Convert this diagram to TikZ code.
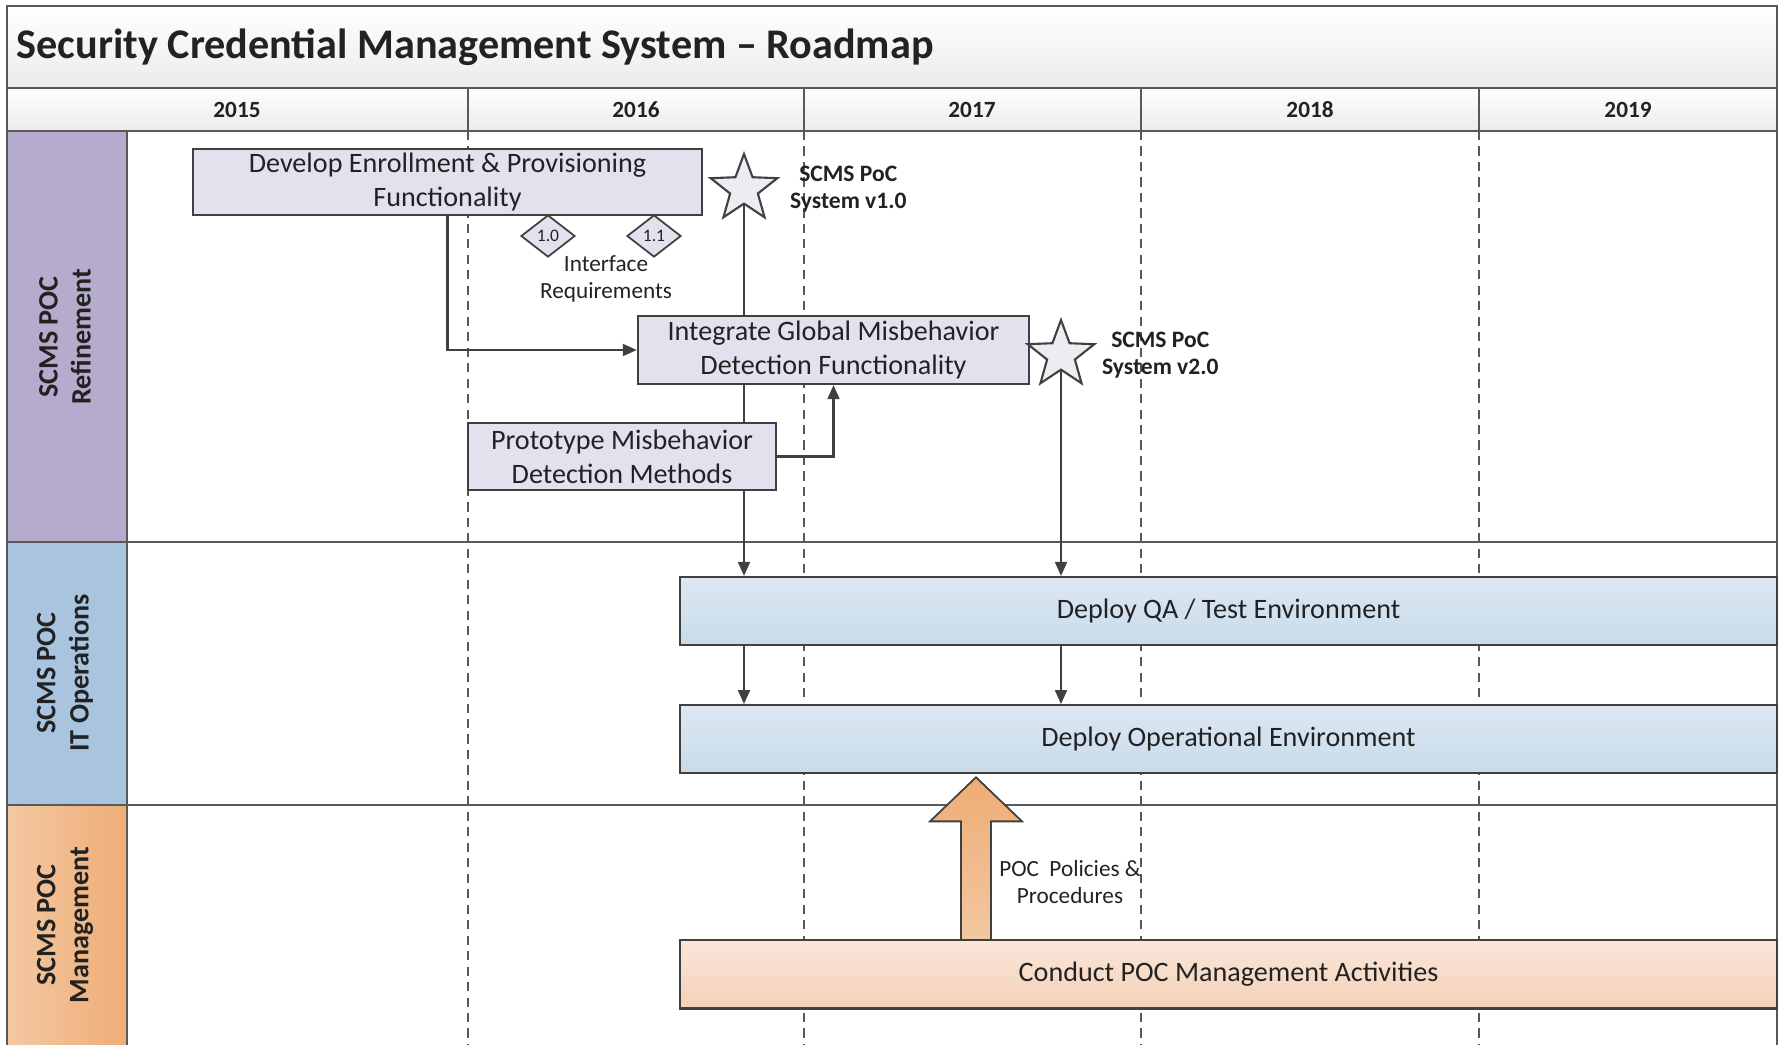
\documentclass[tikz,border=0pt]{standalone}
\usepackage{fontspec}
\setmainfont{Carlito}
\usepackage{tikz}
\usetikzlibrary{shapes.geometric, arrows.meta, positioning, calc}
\definecolor{gridline}{HTML}{595959}
\definecolor{boxline}{HTML}{404040}
\definecolor{inktext}{HTML}{222222}
\definecolor{bandgray}{HTML}{EBEBEB}
\definecolor{lanepurple}{HTML}{B5ABCC}
\definecolor{laneblue}{HTML}{A8C4DF}
\definecolor{laneorangeL}{HTML}{F4C8A2}
\definecolor{laneorangeR}{HTML}{EEAD77}
\definecolor{taskpurple}{HTML}{E4E0EE}
\definecolor{taskblueT}{HTML}{DDE8F2}
\definecolor{taskblueB}{HTML}{C8DBEA}
\definecolor{taskorangeT}{HTML}{FAE7DA}
\definecolor{taskorangeB}{HTML}{F4D0B6}
\definecolor{arroworangeT}{HTML}{EEAC74}
\definecolor{arroworangeB}{HTML}{F3C7A2}
\definecolor{starfill}{HTML}{EEEBF3}
\pgfdeclarelayer{grid}
\pgfdeclarelayer{links}
\pgfsetlayers{grid,links,main}

\begin{document}
\begin{tikzpicture}[x=0.01cm, y=-0.01cm,
        lanelabel/.style={rotate=90, align=center, font=\fontsize{8}{9.4}\selectfont\bfseries, text=inktext},
        year/.style={font=\fontsize{6.6}{8}\selectfont\bfseries, text=inktext},
        task/.style={draw=boxline, line width=0.6pt, align=center, inner sep=0pt, font=\fontsize{8}{9.6}\selectfont, text=inktext},
        purpletask/.style={task, fill=taskpurple},
        bluetask/.style={task, top color=taskblueT, bottom color=taskblueB, minimum width=10.97cm, minimum height=0.68cm},
        orangetask/.style={task, top color=taskorangeT, bottom color=taskorangeB, minimum width=10.97cm, minimum height=0.68cm},
        milestone/.style={star, star points=5, star point ratio=2.4, draw=boxline, fill=starfill, line width=0.6pt, minimum size=0.7cm, inner sep=0pt},
        release/.style={diamond, draw=boxline, fill=taskpurple, line width=0.5pt, minimum width=0.54cm, minimum height=0.42cm, inner sep=0pt, font=\fontsize{5}{6}\selectfont, text=inktext},
        note/.style={align=center, inner sep=0pt, font=\fontsize{6.6}{7.8}\selectfont, text=inktext},
        boldnote/.style={note, font=\fontsize{6.7}{7.8}\selectfont\bfseries},
        flow/.style={-{Triangle[length=4pt, width=3.4pt]}, draw=boxline, line width=0.6pt},
        yearline/.style={draw=gridline, dash pattern=on 2.6pt off 1.8pt, line width=0.5pt},
        frame/.style={draw=gridline, line width=0.7pt},
        bigarrow/.style={draw=boxline, line width=0.5pt, top color=arroworangeT, bottom color=arroworangeB}
    ]
        \useasboundingbox (0,0) rectangle (1781,1044);

        % bands, lanes and year grid
        \begin{pgfonlayer}{grid}
            \shade[top color=white, bottom color=bandgray] (7,6) rectangle (1777,88);
            \shade[top color=white, bottom color=bandgray] (7,88) rectangle (1777,131);
            \fill[lanepurple] (7,131) rectangle (127,542);
            \fill[laneblue] (7,542) rectangle (127,805);
            \shade[left color=laneorangeL, right color=laneorangeR] (7,805) rectangle (127,1050);
            \foreach \x in {468,804,1141,1479} {
                \draw[frame] (\x,88) -- (\x,131);
                \draw[yearline] (\x,131) -- (\x,1050);
            }
            \draw[frame] (7,1050) -- (7,6) -- (1777,6) -- (1777,1050);
            \foreach \y in {88,131,542,805}
                \draw[frame] (7,\y) -- (1777,\y);
            \draw[frame] (127,131) -- (127,1050);
        \end{pgfonlayer}

        \node[anchor=west, inner sep=0pt, font=\fontsize{12}{14}\selectfont\bfseries, text=inktext] (title) at (16,47) {Security Credential Management System – Roadmap};
        \foreach \x/\yr in {237/2015, 636/2016, 972/2017, 1310/2018, 1628/2019}
            \node[year] (y\yr) at (\x,110) {\yr};

        \node[lanelabel] (refine) at (65,337) {SCMS POC\\Refinement};
        \node[lanelabel] (itops) at (65,673) {SCMS POC\\IT Operations};
        \node[lanelabel] (manage) at (65,925) {SCMS POC\\Management};

        % tasks
        \node[purpletask, minimum width=5.09cm, minimum height=0.66cm] (enroll) at (447.5,182) {Develop Enrollment \& Provisioning\\Functionality};
        \node[purpletask, minimum width=3.91cm, minimum height=0.68cm] (integrate) at (833.5,350) {Integrate Global Misbehavior\\Detection Functionality};
        \node[purpletask, minimum width=3.08cm, minimum height=0.67cm] (prototype) at (622,456.5) {Prototype Misbehavior\\Detection Methods};
        \node[bluetask] (qa) at (1228.5,611) {Deploy QA / Test Environment};
        \node[bluetask, below=0.58cm of qa] (ops) {Deploy Operational Environment};
        \node[orangetask, below=1.65cm of ops] (mgmt) {Conduct POC Management Activities};

        % milestones
        \node[milestone] (v1) at (744,189) {};
        \node[boldnote, right=0.24cm of v1] (v1label) {SCMS PoC\\System v1.0};
        \node[milestone] (v2) at (1061,355) {};
        \node[boldnote, right=0.19cm of v2] (v2label) {SCMS PoC\\System v2.0};
        \node[release] (r10) at (548,236) {1.0};
        \node[release] (r11) at (654,236) {1.1};
        \node[note] (ifreq) at (606,279) {Interface\\Requirements};
        \node[note] (policy) at (1070,882) {POC\ \ Policies \&\\Procedures};

        % connectors
        \coordinate (pa) at (976,0);
        \begin{pgfonlayer}{links}
            \draw[flow] (enroll.south) |- (integrate.west);
            \draw[flow] (prototype.east) -| (integrate.south);
            \draw[flow] (v1.south) -- (v1.south |- qa.north);
            \draw[flow] (qa.south -| v1.south) -- (ops.north -| v1.south);
            \draw[flow] (v2.south) -- (v2.south |- qa.north);
            \draw[flow] (qa.south -| v2.south) -- (ops.north -| v2.south);
            \draw[bigarrow] ($(mgmt.north -| pa)+(-15,0)$) -- ++(0,-118) -- ++(-31,0)
                -- ($(ops.south -| pa)+(0,3)$) -- ($(mgmt.north -| pa)+(46,-118)$) -- ++(-31,0)
                -- ($(mgmt.north -| pa)+(15,0)$);
        \end{pgfonlayer}
\end{tikzpicture}
\end{document}
